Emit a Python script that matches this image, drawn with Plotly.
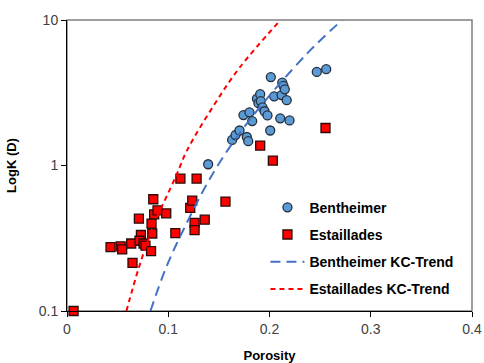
import plotly.graph_objects as go

# Bentheimer samples (porosity, permeability in Darcy)
bent_phi = [0.1394, 0.1631, 0.1664, 0.1704, 0.1743, 0.1776, 0.1790, 0.1802, 0.1829,
            0.1876, 0.1891, 0.1908, 0.1914, 0.1931, 0.1951, 0.1980, 0.2007, 0.2013,
            0.2046, 0.2106, 0.2119, 0.2126, 0.2138, 0.2151, 0.2170, 0.2198, 0.2467, 0.2560]
bent_K = [1.02, 1.50, 1.62, 1.74, 2.22, 1.57, 1.47, 2.32, 2.02,
          2.88, 2.68, 3.09, 2.77, 2.51, 2.36, 2.21, 1.74, 4.05,
          2.99, 2.11, 3.05, 3.71, 3.53, 3.34, 2.81, 2.04, 4.40, 4.59]

# Estaillades samples
esta_phi = [0.0065, 0.0430, 0.0530, 0.0545, 0.0634, 0.0647, 0.0710, 0.0730, 0.0716,
            0.0756, 0.0775, 0.0830, 0.0835, 0.0842, 0.0852, 0.0861, 0.0894, 0.0980,
            0.1070, 0.1217, 0.1237, 0.1260, 0.1260, 0.1360, 0.1565, 0.1120, 0.1280,
            0.2553, 0.1908, 0.2033]
esta_K = [0.100, 0.275, 0.278, 0.265, 0.291, 0.214, 0.431, 0.333, 0.304,
          0.291, 0.281, 0.258, 0.398, 0.341, 0.586, 0.461, 0.492, 0.469,
          0.343, 0.511, 0.574, 0.403, 0.360, 0.424, 0.565, 0.813, 0.813,
          1.81, 1.37, 1.08]

# Trend curves, points
bent_trend_phi = [0.0824, 0.0979, 0.1150, 0.1457, 0.1800, 0.2363, 0.2718]
bent_trend_K = [0.100, 0.199, 0.362, 0.920, 2.04, 5.80, 10.0]
esta_trend_phi = [0.0587, 0.0709, 0.0850, 0.1078, 0.1183, 0.1450, 0.1704, 0.2109]
esta_trend_K = [0.100, 0.198, 0.379, 0.850, 1.26, 2.59, 4.70, 10.0]

x_ticks = [0, 0.1, 0.2, 0.3, 0.4]
x_tick_labels = ["0", "0.1", "0.2", "0.3", "0.4"]
y_ticks = [0.1, 1, 10]
y_tick_labels = ["0.1", "1", "10"]

fig = go.Figure()
fig.add_trace(go.Scatter(
    x=bent_phi, y=bent_K, mode="markers", name="Bentheimer", legendgroup="a",
    marker=dict(symbol="circle", size=9, color="#5B9BD5",
                line=dict(color="#26303D", width=1.3)),
    cliponaxis=False))
fig.add_trace(go.Scatter(
    x=esta_phi, y=esta_K, mode="markers", name="Estaillades", legendgroup="b",
    marker=dict(symbol="square", size=9, color="#FF0000",
                line=dict(color="#2A0A0A", width=1.3)),
    cliponaxis=False))
fig.add_trace(go.Scatter(
    x=bent_trend_phi, y=bent_trend_K, mode="lines", name="Bentheimer KC-Trend",
    legendgroup="c",
    line=dict(color="#4472C4", width=2, dash="10px,6px", shape="spline")))
fig.add_trace(go.Scatter(
    x=esta_trend_phi, y=esta_trend_K, mode="lines", name="Estaillades KC-Trend",
    legendgroup="d",
    line=dict(color="#FF0000", width=2, dash="5px,4px", shape="spline")))

fig.add_shape(type="rect", xref="paper", yref="paper", x0=0, y0=0, x1=1, y1=1,
              line=dict(color="#7F7F7F", width=1.5), layer="below")

fig.update_layout(
    width=484, height=363,
    margin=dict(l=67, r=12, t=20, b=52),
    paper_bgcolor="white", plot_bgcolor="white",
    font=dict(family="Liberation Sans, Arial, sans-serif", size=13, color="#404040"),
    showlegend=True,
    legend=dict(x=0.49, y=0.41, xanchor="left", yanchor="top",
                bgcolor="rgba(0,0,0,0)", tracegroupgap=6,
                font=dict(size=14, color="#000000",
                          family="Liberation Sans, Arial, sans-serif", weight="bold"),
                itemwidth=34),
    xaxis=dict(range=[0, 0.4], tickvals=x_ticks, ticktext=x_tick_labels,
               showgrid=False, zeroline=False, showline=True, linecolor="#000000",
               linewidth=1, ticks="outside", ticklen=5, tickcolor="#000000",
               tickfont=dict(size=14, color="#404040"), automargin=False,
               title=dict(text="<b>Porosity</b>", standoff=24,
                          font=dict(size=13, color="#000000"))),
    yaxis=dict(type="log", range=[-1, 1], tickvals=y_ticks, ticktext=y_tick_labels,
               showgrid=False, zeroline=False, showline=True, linecolor="#000000",
               linewidth=1, ticks="outside", ticklen=5, tickcolor="#000000",
               tickfont=dict(size=14, color="#404040"), automargin=False,
               title=dict(text="<b>LogK (D)</b>", standoff=19,
                          font=dict(size=13, color="#000000"))),
)

fig.write_html("out.html")
